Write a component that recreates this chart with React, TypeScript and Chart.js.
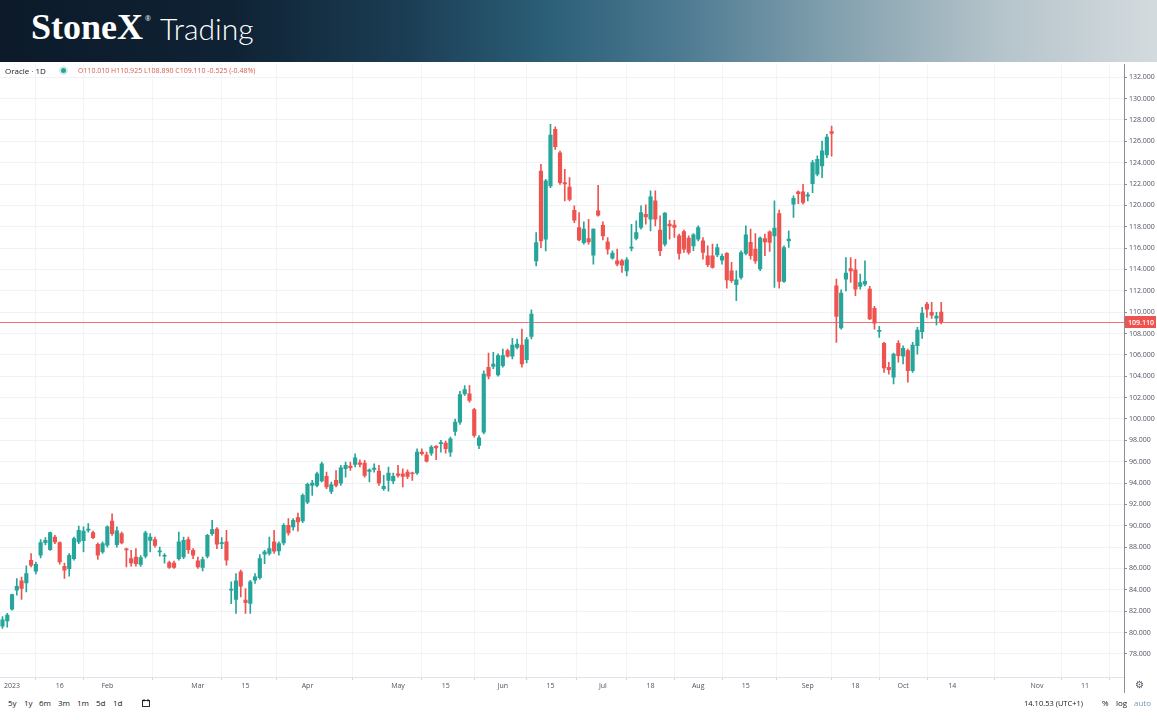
import React, { useEffect, useRef } from "react";
import { Chart, registerables } from "chart.js";

Chart.register(...registerables);

// ---- categories: trading days (Dec 29 2022 .. Oct 12 2023)
const MONTH_DAYS: [string, number[]][] = [
  ["2022-12", [29, 30]],
  ["2023-01", [3, 4, 5, 6, 9, 10, 11, 12, 13, 17, 18, 19, 20, 23, 24, 25, 26, 27, 30, 31]],
  ["2023-02", [1, 2, 3, 6, 7, 8, 9, 10, 13, 14, 15, 16, 17, 21, 22, 23, 24, 27, 28]],
  ["2023-03", [1, 2, 3, 6, 7, 8, 9, 10, 13, 14, 15, 16, 17, 20, 21, 22, 23, 24, 27, 28, 29, 30, 31]],
  ["2023-04", [3, 4, 5, 6, 10, 11, 12, 13, 14, 17, 18, 19, 20, 21, 24, 25, 26, 27, 28]],
  ["2023-05", [1, 2, 3, 4, 5, 8, 9, 10, 11, 12, 15, 16, 17, 18, 19, 22, 23, 24, 25, 26, 30, 31]],
  ["2023-06", [1, 2, 5, 6, 7, 8, 9, 12, 13, 14, 15, 16, 20, 21, 22, 23, 26, 27, 28, 29, 30]],
  ["2023-07", [3, 5, 6, 7, 10, 11, 12, 13, 14, 17, 18, 19, 20, 21, 24, 25, 26, 27, 28, 31]],
  ["2023-08", [1, 2, 3, 4, 7, 8, 9, 10, 11, 14, 15, 16, 17, 18, 21, 22, 23, 24, 25, 28, 29, 30, 31]],
  ["2023-09", [1, 5, 6, 7, 8, 11, 12, 13, 14, 15, 18, 19, 20, 21, 22, 25, 26, 27, 28, 29]],
  ["2023-10", [2, 3, 4, 5, 6, 9, 10, 11, 12]],
];
const DATES: string[] = MONTH_DAYS.flatMap(([m, ds]) => ds.map((d) => `${m}-${String(d).padStart(2, "0")}`));

// ---- series values (OHLC)
const OPEN = [
  80.6, 81.1, 82.19, 83.97, 84.84, 84.65, 86.77, 85.75, 87.24, 88.42,
  87.77, 88.95, 88.42, 86.21, 85.99, 86.93, 88.49, 88.6, 89.6, 89.36,
  88.27, 87.55, 88.18, 90.45, 88.24, 89.27, 87.8, 86.93, 87.08, 86.37,
  87.15, 88.64, 88.7, 87.55, 87.15, 86.56, 86.5, 86.93, 87.09, 88.71,
  87.71, 86.71, 86.09, 87.15, 89.27, 89.7, 88.33, 88.49, 83.97, 83.1,
  85.68, 83.04, 82.73, 84.91, 85.15, 87.34, 87.4, 88.49, 87.65, 88.4,
  90.05, 89.89, 90.76, 90.45, 92.22, 93.78, 93.78, 94.19, 94.62, 93.22,
  94.25, 94.0, 95.34, 95.59, 95.75, 95.9, 95.87, 95.09, 95.28, 95.12,
  93.47, 94.25, 94.19, 94.87, 94.87, 95.03, 94.96, 94.94, 96.9, 96.65,
  96.81, 97.43, 97.68, 97.74, 96.9, 98.83, 99.7, 102.35, 102.35, 100.88,
  97.52, 98.76, 104.84, 104.93, 104.12, 105.0, 106.4, 105.87, 106.71, 106.93,
  105.56, 107.74, 114.81, 123.22, 116.83, 121.82, 127.11, 124.93, 122.13, 121.72,
  119.54, 117.92, 116.52, 116.9, 115.34, 119.48, 118.14, 116.58, 115.06, 114.81,
  114.81, 113.87, 116.0, 116.9, 117.93, 119.17, 118.71, 120.42, 117.68, 116.37,
  118.24, 118.15, 117.15, 117.55, 116.93, 116.21, 116.84, 116.68, 115.28, 115.28,
  115.37, 114.88, 115.5, 113.88, 112.57, 113.26, 115.5, 116.53, 115.9, 114.04,
  116.9, 117.52, 117.15, 119.24, 112.88, 116.68, 120.11, 121.26, 121.26, 120.86,
  122.04, 122.92, 123.7, 124.72, 126.9, 112.47, 108.52, 113.1, 114.09, 113.97,
  112.41, 112.63, 112.16, 110.35, 108.2, 107.08, 104.84, 103.91, 107.08, 105.87,
  106.4, 104.53, 106.86, 108.17, 110.76, 109.98, 109.45, 110.01,
];
const HIGH = [
  81.5, 81.8, 83.6, 85.06, 85.2, 86.24, 87.4, 86.6, 88.7, 88.9,
  89.4, 89.1, 88.5, 86.5, 87.4, 88.95, 89.98, 89.9, 90.2, 89.5,
  88.4, 88.5, 90.0, 91.13, 89.9, 89.4, 87.9, 87.7, 87.86, 87.2,
  89.5, 89.27, 88.95, 88.0, 87.4, 86.7, 86.7, 89.42, 88.95, 88.95,
  87.86, 87.08, 87.08, 89.2, 90.51, 89.83, 88.9, 89.58, 84.75, 85.53,
  85.84, 84.13, 84.9, 85.53, 87.3, 87.7, 88.95, 89.58, 88.49, 90.2,
  90.67, 90.67, 91.2, 93.0, 94.0, 94.25, 95.03, 95.96, 95.03, 94.1,
  95.18, 95.65, 95.96, 95.96, 96.74, 96.18, 96.12, 95.34, 95.81, 95.65,
  94.72, 95.5, 94.94, 95.65, 95.34, 95.25, 95.03, 97.2, 97.2, 96.9,
  97.52, 97.52, 97.99, 97.93, 98.3, 100.0, 102.6, 103.13, 103.13, 101.0,
  98.45, 104.5, 106.18, 106.24, 106.1, 106.55, 106.55, 107.55, 107.49, 108.42,
  107.65, 110.23, 117.46, 123.84, 122.44, 127.58, 127.36, 125.09, 123.38, 122.6,
  119.95, 119.33, 118.45, 118.7, 117.8, 121.88, 118.45, 116.99, 115.74, 115.9,
  114.96, 115.12, 118.23, 118.55, 119.95, 120.05, 121.36, 121.36, 119.02, 119.33,
  118.61, 118.61, 117.31, 117.68, 117.15, 117.37, 118.08, 116.99, 116.21, 116.37,
  116.37, 115.44, 115.59, 114.66, 113.88, 115.75, 118.08, 117.77, 117.37, 117.06,
  117.31, 117.62, 120.42, 119.55, 116.21, 117.62, 120.9, 121.36, 121.98, 121.2,
  124.22, 124.63, 126.03, 126.65, 127.43, 113.1, 112.1, 115.12, 115.12, 114.96,
  113.56, 114.81, 112.41, 110.54, 108.67, 107.18, 105.31, 106.18, 107.33, 106.86,
  106.55, 107.18, 108.58, 110.45, 110.92, 110.92, 109.98, 110.925,
];
const LOW = [
  80.4, 80.5, 82.1, 83.5, 83.1, 83.8, 86.15, 85.5, 87.0, 88.2,
  87.7, 88.33, 86.4, 85.06, 85.28, 86.77, 88.33, 87.55, 89.4, 88.8,
  86.84, 87.4, 88.0, 89.1, 88.0, 88.3, 86.15, 86.21, 86.21, 86.2,
  87.0, 87.55, 88.0, 87.15, 86.5, 86.0, 86.0, 86.77, 86.93, 87.4,
  86.93, 86.0, 85.78, 87.0, 89.1, 87.86, 87.86, 86.3, 82.7, 81.79,
  83.35, 81.79, 81.79, 84.6, 85.0, 86.46, 87.24, 87.4, 87.24, 88.2,
  89.11, 89.58, 89.5, 90.3, 92.07, 92.85, 93.63, 94.1, 93.47, 93.0,
  93.63, 93.78, 94.56, 95.18, 95.5, 95.5, 94.56, 94.1, 95.03, 93.78,
  93.32, 93.25, 93.94, 94.56, 93.63, 94.4, 94.25, 94.8, 96.6, 95.96,
  96.58, 96.18, 96.9, 96.8, 96.5, 98.45, 99.5, 102.2, 101.57, 98.3,
  97.21, 98.6, 103.75, 104.7, 104.0, 104.84, 105.78, 105.62, 106.55, 104.84,
  105.24, 107.49, 114.34, 116.05, 115.74, 121.66, 125.24, 121.97, 120.42, 120.42,
  118.39, 116.68, 116.37, 116.37, 114.5, 119.0, 116.77, 115.43, 114.96, 114.34,
  113.72, 113.4, 115.74, 116.77, 117.77, 118.24, 117.62, 118.08, 115.28, 116.21,
  116.84, 116.99, 114.97, 115.59, 115.44, 115.75, 116.68, 114.97, 114.25, 114.13,
  115.19, 114.5, 112.26, 112.79, 111.08, 113.1, 115.37, 114.97, 114.56, 113.88,
  115.28, 115.69, 112.32, 112.26, 112.79, 116.06, 118.87, 120.17, 120.11, 120.42,
  121.2, 122.76, 122.6, 124.47, 124.6, 107.18, 108.42, 112.0, 112.78, 111.54,
  112.16, 112.47, 109.3, 108.42, 107.64, 104.37, 104.2, 103.28, 105.31, 105.15,
  103.44, 104.37, 106.08, 107.55, 109.52, 109.42, 108.8, 108.89,
];
const CLOSE = [
  81.2, 81.63, 83.56, 84.34, 84.13, 85.53, 86.3, 86.4, 88.42, 88.64,
  89.36, 88.49, 86.62, 85.84, 87.24, 88.8, 89.58, 89.5, 89.7, 88.89,
  87.24, 88.33, 89.89, 89.27, 89.52, 88.4, 87.75, 86.52, 86.46, 87.02,
  89.33, 88.95, 88.17, 87.6, 87.24, 86.09, 86.09, 88.49, 88.64, 87.77,
  87.24, 86.15, 86.84, 89.11, 89.64, 88.27, 88.36, 86.77, 84.0, 84.84,
  84.35, 82.79, 84.75, 85.22, 86.93, 87.55, 87.86, 87.62, 88.33, 90.05,
  89.33, 90.51, 90.36, 92.85, 93.88, 94.0, 94.87, 95.81, 93.63, 93.85,
  93.78, 95.43, 95.65, 95.43, 96.37, 95.75, 94.72, 95.25, 95.4, 94.0,
  93.69, 94.94, 94.62, 94.72, 94.62, 94.62, 94.87, 96.9, 96.74, 96.06,
  97.37, 97.3, 97.8, 97.21, 98.14, 99.7, 102.29, 102.75, 101.73, 98.45,
  98.24, 104.2, 104.0, 105.15, 105.93, 105.93, 105.87, 106.93, 107.02, 105.15,
  107.43, 109.82, 116.52, 116.68, 122.29, 126.58, 125.49, 122.13, 122.0, 120.57,
  118.61, 116.77, 117.77, 116.58, 117.77, 119.08, 117.15, 115.9, 115.53, 114.5,
  114.4, 114.9, 116.05, 117.46, 119.33, 118.93, 120.8, 118.71, 115.75, 119.27,
  118.08, 117.93, 115.5, 115.9, 115.59, 117.24, 117.93, 115.59, 114.44, 114.19,
  116.06, 115.22, 113.01, 112.94, 113.04, 115.59, 117.24, 115.28, 114.81, 116.93,
  116.59, 116.53, 117.87, 112.88, 116.06, 116.84, 120.67, 121.1, 120.27, 120.98,
  124.01, 124.32, 125.1, 126.4, 126.75, 109.61, 111.79, 113.66, 113.87, 112.16,
  112.78, 112.88, 109.36, 108.98, 108.27, 104.78, 104.62, 106.08, 105.93, 106.62,
  104.53, 106.93, 108.33, 109.92, 110.29, 109.73, 109.635, 109.11,
];

// ---- axis ticks
const X_TICK_LABELS = ["2023", "16", "Feb", "Mar", "15", "Apr", "May", "15", "Jun", "15", "Jul", "18", "Aug", "15", "Sep", "18", "Oct", "14", "Nov", "11"];
const X_TICK_BARS = [2, 12, 22, 41, 51, 64, 83, 93, 105, 115, 126, 136, 146, 156, 169, 179, 189, 199.3, 217.1, 227.2];
const Y_TICKS = [78, 80, 82, 84, 86, 88, 90, 92, 94, 96, 98, 100, 102, 104, 106, 108, 110, 112, 114, 116, 118, 120, 122, 124, 126, 128, 130, 132];
const X_RANGE = [-0.525, 235.36];
const Y_RANGE = [75.84, 133.22];

const UP = "#26a69a";
const DOWN = "#ef5350";
const FONT = "'Open Sans', 'Noto Sans', sans-serif";

const pricePlugin = {
  id: "priceLine",
  beforeDatasetsDraw(chart: any) {
    const { ctx, chartArea, scales } = chart;
    const last = CLOSE[CLOSE.length - 1];
    const y = Math.round(scales.y.getPixelForValue(last)) + 0.5;
    ctx.save();
    ctx.strokeStyle = "rgba(239,83,80,0.8)";
    ctx.lineWidth = 1;
    ctx.beginPath();
    ctx.moveTo(chartArea.left, y);
    ctx.lineTo(chartArea.right, y);
    ctx.stroke();
    ctx.restore();
  },
  afterDraw(chart: any) {
    const { ctx, chartArea, scales } = chart;
    const last = CLOSE[CLOSE.length - 1];
    const y = Math.round(scales.y.getPixelForValue(last));
    const x = chartArea.right;
    ctx.save();
    ctx.strokeStyle = "#8b8e96";
    ctx.lineWidth = 1;
    ctx.beginPath();
    ctx.moveTo(x + 0.5, chartArea.bottom);
    ctx.lineTo(x + 0.5, chartArea.bottom + 16);
    ctx.stroke();
    ctx.fillStyle = DOWN;
    ctx.fillRect(x + 1, y - 6, 31, 12);
    ctx.fillStyle = "#ffffff";
    ctx.font = `600 7px ${FONT}`;
    ctx.textBaseline = "middle";
    ctx.textAlign = "left";
    ctx.fillText(last.toFixed(3), x + 4, y + 0.5);
    ctx.restore();
  },
};

export default function App() {
  const canvasRef = useRef<HTMLCanvasElement | null>(null);

  useEffect(() => {
    const canvas = canvasRef.current;
    if (!canvas) return;
    const idx = DATES.map((_, i) => i);
    const colors = idx.map((i) => (CLOSE[i] >= OPEN[i] ? UP : DOWN));
    const chart = new Chart(canvas, {
      type: "bar",
      data: {
        datasets: [
          {
            label: "Body",
            data: idx.map((i) => ({ x: i, y: [Math.min(OPEN[i], CLOSE[i]), Math.max(OPEN[i], CLOSE[i])] })),
            backgroundColor: colors,
            barThickness: 3.5,
            minBarLength: 1,
            grouped: false,
            borderWidth: 0,
          } as any,
          {
            label: "Wick",
            data: idx.map((i) => ({ x: i, y: [LOW[i], HIGH[i]] })),
            backgroundColor: colors,
            barThickness: 1,
            grouped: false,
            borderWidth: 0,
          } as any,
        ],
      },
      options: {
        animation: false,
        responsive: false,
        maintainAspectRatio: false,
        layout: { padding: { top: 1, left: 0, right: 0, bottom: 0 } },
        plugins: { legend: { display: false }, tooltip: { enabled: false } },
        scales: {
          x: {
            type: "linear",
            min: X_RANGE[0],
            max: X_RANGE[1],
            offset: false,
            grid: { color: "#f3f4f8", tickLength: 3, tickColor: "#d6d8de" },
            border: { color: "#e0e3eb" },
            ticks: {
              autoSkip: false,
              maxRotation: 0,
              padding: 2,
              color: "#50535e",
              font: { family: FONT, size: 7 },
              callback: (_v: any, i: number) => X_TICK_LABELS[i],
            },
            afterBuildTicks: (s: any) => {
              s.ticks = X_TICK_BARS.map((v) => ({ value: v }));
            },
            afterFit: (s: any) => {
              s.height = 18;
            },
          },
          y: {
            type: "linear",
            position: "right",
            min: Y_RANGE[0],
            max: Y_RANGE[1],
            grid: { color: "#f0f2f6", tickLength: 3, tickColor: "#8b8e96" },
            border: { color: "#8b8e96" },
            ticks: {
              padding: 2,
              color: "#50535e",
              font: { family: FONT, size: 7 },
              callback: (v: any) => Number(v).toFixed(3),
            },
            afterBuildTicks: (s: any) => {
              s.ticks = Y_TICKS.map((v) => ({ value: v }));
            },
            afterFit: (s: any) => {
              s.width = 33;
            },
          },
        },
      } as any,
      plugins: [pricePlugin as any],
    });
    return () => chart.destroy();
  }, []);

  const n = CLOSE.length;
  const lo = OPEN[n - 1], hi = HIGH[n - 1], lw = LOW[n - 1], cl = CLOSE[n - 1];
  const chg = cl - CLOSE[n - 2];
  const pct = (chg / CLOSE[n - 2]) * 100;
  const ohlc = `O${lo.toFixed(3)} H${hi.toFixed(3)} L${lw.toFixed(3)} C${cl.toFixed(3)} ${chg.toFixed(3)} (${pct.toFixed(2)}%)`;

  const tf = ["5y", "1y", "6m", "3m", "1m", "5d", "1d"];
  const tfX = [8, 24, 39, 58, 77, 96, 113];

  return (
    <div
      style={{
        position: "absolute",
        left: 0,
        top: 0,
        width: 1157,
        height: 720,
        background: "#ffffff",
        overflow: "hidden",
        fontFamily: FONT,
      }}
    >
      <canvas
        ref={canvasRef}
        width={1157}
        height={637}
        style={{ position: "absolute", left: 0, top: 58, width: 1157, height: 637 }}
      />

      <div
        style={{
          position: "absolute",
          left: 0,
          top: 0,
          width: 1157,
          height: 62,
          zIndex: 2,
          background:
            "linear-gradient(90deg, #0c1a29 0%, #0f2234 20%, #1b3d54 35%, #2b5e77 47%, #4a7890 58%, #82a0ae 72%, #b4c3ca 86%, #d4dbdf 100%)",
        }}
      >
        <span
          style={{
            position: "absolute",
            left: 31,
            top: 9,
            fontFamily: "'Liberation Serif', 'DejaVu Serif', serif",
            fontWeight: 700,
            fontSize: 36,
            lineHeight: "36px",
            color: "#ffffff",
            whiteSpace: "nowrap",
          }}
        >
          StoneX
        </span>
        <span style={{ position: "absolute", left: 145, top: 15, fontSize: 7, lineHeight: "7px", color: "#ffffff" }}>®</span>
        <span
          style={{
            position: "absolute",
            left: 160,
            top: 13,
            fontFamily: "Lato, 'Open Sans', sans-serif",
            fontWeight: 300,
            fontSize: 30,
            lineHeight: "30px",
            color: "#ffffff",
            whiteSpace: "nowrap",
          }}
        >
          Trading
        </span>
      </div>

      <div style={{ position: "absolute", left: 5, top: 66, fontSize: 8, lineHeight: "10px", color: "#131722", whiteSpace: "nowrap" }}>
        Oracle · 1D
      </div>
      <div
        style={{
          position: "absolute",
          left: 61,
          top: 68,
          width: 5,
          height: 5,
          borderRadius: 3,
          background: UP,
          boxShadow: "0 0 0 2px rgba(38,166,154,0.2)",
        }}
      />
      <div style={{ position: "absolute", left: 78, top: 66, fontSize: 7, lineHeight: "10px", color: "#d65a4e", whiteSpace: "nowrap" }}>
        {ohlc}
      </div>

      <div style={{ position: "absolute", left: 1135, top: 678, fontSize: 10, lineHeight: "12px", color: "#50535e" }}>⚙</div>

      {tf.map((t, i) => (
        <div key={t} style={{ position: "absolute", left: tfX[i], top: 698, fontSize: 8, lineHeight: "10px", color: "#131722" }}>
          {t}
        </div>
      ))}
      <svg style={{ position: "absolute", left: 141, top: 698 }} width={10} height={10} viewBox="0 0 10 10">
        <rect x={1.5} y={2.5} width={7} height={6} fill="none" stroke="#131722" strokeWidth={0.9} />
        <line x1={3} y1={1} x2={3} y2={3.5} stroke="#131722" strokeWidth={0.9} />
        <line x1={7} y1={1} x2={7} y2={3.5} stroke="#131722" strokeWidth={0.9} />
      </svg>
      <div style={{ position: "absolute", right: 1157 - 1083, top: 698, fontSize: 7.5, lineHeight: "10px", color: "#131722", whiteSpace: "nowrap" }}>
        14.10.53 (UTC+1)
      </div>
      <div style={{ position: "absolute", left: 1102, top: 698, fontSize: 8, lineHeight: "10px", color: "#131722" }}>%</div>
      <div style={{ position: "absolute", left: 1116, top: 698, fontSize: 8, lineHeight: "10px", color: "#131722" }}>log</div>
      <div style={{ position: "absolute", left: 1134, top: 698, fontSize: 8, lineHeight: "10px", color: "#7f93b8" }}>auto</div>
    </div>
  );
}
